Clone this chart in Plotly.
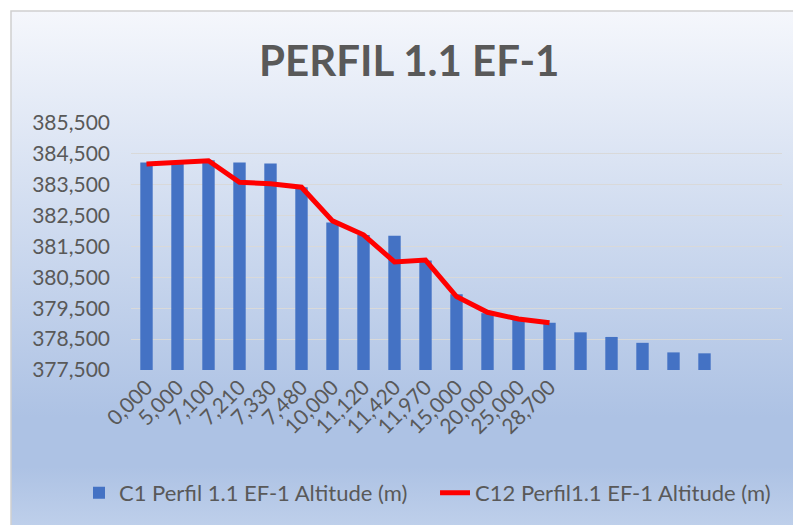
import urllib.parse
import plotly.graph_objs as go

# distances (km) shown as x labels, altitudes (m)
distances = ["0,000", "5,000", "7,100", "7,210", "7,330", "7,480", "10,000",
             "11,120", "11,420", "11,970", "15,000", "20,000", "25,000", "28,700"]
c1_altitude = [384.22, 384.24, 384.29, 384.22, 384.19, 383.42, 382.28, 381.87,
               381.85, 381.05, 379.95, 379.34, 379.12, 379.03, 378.72, 378.57,
               378.38, 378.07, 378.04]
c12_altitude = [384.17, 384.24, 384.28, 383.58, 383.53, 383.42, 382.33, 381.88,
                381.00, 381.06, 379.88, 379.37, 379.15, 379.03]
n_slots = 21

text_color = "#595959"
font_name = "Lato"

# light blue gradient background, like the excel chart area
svg = ('<svg xmlns="http://www.w3.org/2000/svg" width="100" height="100" preserveAspectRatio="none">'
       '<defs><linearGradient id="g" x1="0" y1="0" x2="0" y2="1">'
       '<stop offset="0" stop-color="#f5f7fc"/>'
       '<stop offset="0.74" stop-color="#adc2e4"/>'
       '<stop offset="0.83" stop-color="#adc2e4"/>'
       '<stop offset="1" stop-color="#c8d7ee"/>'
       '</linearGradient></defs>'
       '<rect width="100" height="100" fill="url(#g)"/></svg>')
bg_source = "data:image/svg+xml;utf8," + urllib.parse.quote(svg)

fig = go.Figure()
fig.add_trace(go.Bar(
    x=list(range(len(c1_altitude))),
    y=[a - 377.5 for a in c1_altitude],
    base=377.5,
    width=0.4,
    marker=dict(color="#4472c4", line=dict(width=0)),
    name="C1 Perfil 1.1 EF-1 Altitude (m)",
    legend="legend",
))
fig.add_trace(go.Scatter(
    x=list(range(len(c12_altitude))),
    y=c12_altitude,
    mode="lines",
    line=dict(color="#ff0000", width=5),
    name="C12 Perfil1.1 EF-1 Altitude (m)",
    legend="legend2",
))

# page body adds 8px, so figure is 793x517 and sits at (8,8)
# frame position in paper units (plot area is 123..774 x 115..362 px)
px_w, px_h = 651.0, 247.0
fx0, fx1 = (3 - 123) / px_w, (807 - 123) / px_w
fy0, fy1 = (362 - 552) / px_h, (362 - 3) / px_h

legend_style = dict(orientation="h", xref="container", yref="container",
                    xanchor="left", y=0.062, yanchor="middle",
                    font=dict(size=22, color=text_color), bgcolor="rgba(0,0,0,0)")

fig.update_layout(
    width=793, height=517,
    margin=dict(l=123, r=19, t=115, b=155, autoexpand=False),
    paper_bgcolor="white",
    plot_bgcolor="rgba(0,0,0,0)",
    separators=",.",
    font=dict(family=font_name, color=text_color, size=20),
    title=dict(text="<b>PERFIL 1.1 EF-1</b>", x=0.506, xanchor="center",
               y=0.8975, yanchor="middle",
               font=dict(family=font_name, size=42, color=text_color)),
    showlegend=True,
    legend=dict(legend_style, x=0.0895),
    legend2=dict(legend_style, x=0.5385),
    images=[dict(source=bg_source, xref="paper", yref="paper",
                 x=fx0, y=fy1, sizex=fx1 - fx0, sizey=fy1 - fy0,
                 sizing="stretch", layer="below", xanchor="left", yanchor="top")],
    shapes=[dict(type="rect", xref="paper", yref="paper", x0=fx0, x1=fx1, y0=fy0, y1=fy1,
                 line=dict(color="#d0d0d0", width=1.5), fillcolor="rgba(0,0,0,0)", layer="below")],
)
fig.update_xaxes(
    range=[-0.5, n_slots - 0.5],
    tickmode="array",
    tickvals=list(range(len(distances))),
    ticktext=distances,
    tickangle=-45,
    showgrid=False, zeroline=False, showline=False,
    tickfont=dict(size=21, color=text_color),
)
fig.update_yaxes(
    range=[377.5, 385.5],
    tick0=377.5, dtick=1,
    tickformat=".3f",
    showgrid=True, gridcolor="#d9d9d9", gridwidth=1.3,
    zeroline=False, showline=False,
    ticklabelstandoff=20,
    tickfont=dict(size=21, color=text_color),
)

fig.write_html("out.html")
